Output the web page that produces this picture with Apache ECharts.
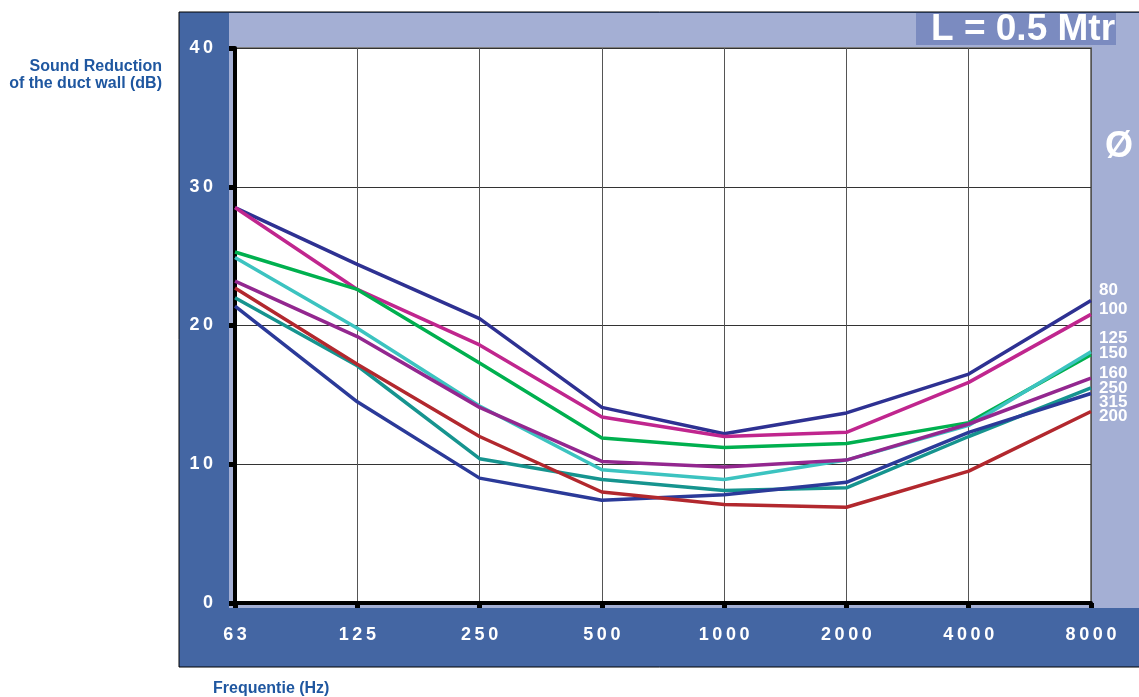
<!DOCTYPE html>
<html lang="en">
<head>
  <meta charset="UTF-8">
  <title>Sound Reduction L = 0.5 Mtr</title>
  <style>
    html, body {margin: 0; padding: 0; background: #fff;}
    #chart {width: 1139px; height: 697px;}
  </style>
</head>
<body>
  <div id="chart"></div>
  <script src="https://cdn.jsdelivr.net/npm/echarts@6/dist/echarts.min.js"></script>
  <script>
    // data
    var categories = ['63', '125', '250', '500', '1000', '2000', '4000', '8000'];
    var yTicks = [0, 10, 20, 30, 40];
    var diameters = ['80', '100', '125', '150', '160', '250', '315', '200'];

    var d80  = [28.5, 24.4, 20.5, 14.1, 12.2, 13.7, 16.5, 21.8];
    var d100 = [28.5, 22.6, 18.6, 13.4, 12.0, 12.3, 15.9, 20.8];
    var d125 = [25.3, 22.6, 17.3, 11.9, 11.2, 11.5, 13.0, 17.9];
    var d150 = [24.9, 19.8, 14.2, 9.6, 8.9, 10.3, 12.8, 18.1];
    var d160 = [23.2, 19.2, 14.1, 10.2, 9.8, 10.3, 12.9, 16.2];
    var d250 = [22.0, 17.1, 10.4, 8.9, 8.1, 8.3, 12.0, 15.5];
    var d315 = [21.4, 14.5, 9.0, 7.4, 7.8, 8.7, 12.3, 15.1];
    var d200 = [22.7, 17.2, 12.0, 8.0, 7.1, 6.9, 9.5, 13.8];

    var seriesData = [d80, d100, d125, d150, d160, d250, d315, d200];
    var colors = ['#2e3192', '#c0268e', '#00b04f', '#3cc3c0', '#93278f', '#16948f', '#2b3a99', '#b2282e'];

    var darkBlue = '#4466a3';
    var lightBlue = '#a4afd4';
    var font = '"Liberation Sans", Arial, sans-serif';

    // spaced digits like the original labels
    function spaced(v) {
      return String(v).split('').join('\u2009');
    }

    var chart = echarts.init(document.getElementById('chart'));

    // right hand labels (diameters), stacked in the light column
    var labelMid = [290, 309, 338, 353, 373, 388, 402, 416];
    var diaLabels = diameters.map(function (d, i) {
      return {
        type: 'text', z: 10, x: 1099, y: labelMid[i],
        style: {text: d, fill: '#fff', font: 'bold 17px ' + font, verticalAlign: 'middle'}
      };
    });

    var option = {
      animation: false,
      color: colors,
      graphic: [
        {type: 'rect', z: -10, shape: {x: 179, y: 12, width: 961, height: 655},
          style: {fill: darkBlue, stroke: '#000', lineWidth: 1}},
        {type: 'rect', z: -9, shape: {x: 229, y: 13, width: 911, height: 595},
          style: {fill: lightBlue}},
        {type: 'rect', z: -8, shape: {x: 916, y: 13, width: 200, height: 32},
          style: {fill: '#7b8bc0'}},
        {type: 'text', z: 10, x: 931, y: 30,
          style: {text: 'L = 0.5 Mtr', fill: '#fff', font: 'bold 37px ' + font, verticalAlign: 'middle'}},
        {type: 'text', z: 10, x: 1119, y: 147,
          style: {text: 'Ø', fill: '#fff', font: 'bold 36px ' + font, align: 'center', verticalAlign: 'middle'}},
        {type: 'text', z: 10, x: 162, y: 67,
          style: {text: 'Sound Reduction', fill: '#1f57a0', font: 'bold 16px ' + font,
            align: 'right', verticalAlign: 'middle'}},
        {type: 'text', z: 10, x: 162, y: 84,
          style: {text: 'of the duct wall (dB)', fill: '#1f57a0', font: 'bold 16px ' + font,
            align: 'right', verticalAlign: 'middle'}},
        {type: 'text', z: 10, x: 213, y: 689,
          style: {text: 'Frequentie (Hz)', fill: '#1f57a0', font: 'bold 16px ' + font, verticalAlign: 'middle'}}
      ].concat(diaLabels),
      grid: {
        left: 235, right: 48, top: 48, bottom: 94,
        show: true, backgroundColor: '#fff', borderColor: '#808080', borderWidth: 2
      },
      xAxis: {
        type: 'category',
        data: categories,
        boundaryGap: false,
        axisLine: {lineStyle: {color: '#000', width: 4}},
        axisTick: {alignWithLabel: true, length: 5, lineStyle: {color: '#000', width: 5}},
        axisLabel: {
          color: '#fff', fontWeight: 'bold', fontSize: 18, fontFamily: font, margin: 23,
          formatter: spaced
        },
        splitLine: {show: true, lineStyle: {color: '#555', width: 1}}
      },
      yAxis: {
        type: 'value',
        min: yTicks[0], max: yTicks[yTicks.length - 1], interval: 10,
        axisLine: {show: true, lineStyle: {color: '#000', width: 4}},
        axisTick: {show: true, length: 6, lineStyle: {color: '#000', width: 5}},
        axisLabel: {
          color: '#fff', fontWeight: 'bold', fontSize: 18, fontFamily: font, margin: 22,
          formatter: spaced
        },
        splitLine: {show: true, lineStyle: {color: '#333', width: 1}}
      },
      series: seriesData.map(function (arr, i) {
        return {
          name: diameters[i],
          type: 'line',
          data: arr,
          showSymbol: false,
          lineStyle: {width: 3.5, color: colors[i]}
        };
      })
    };

    chart.setOption(option);
  </script>
</body>
</html>
